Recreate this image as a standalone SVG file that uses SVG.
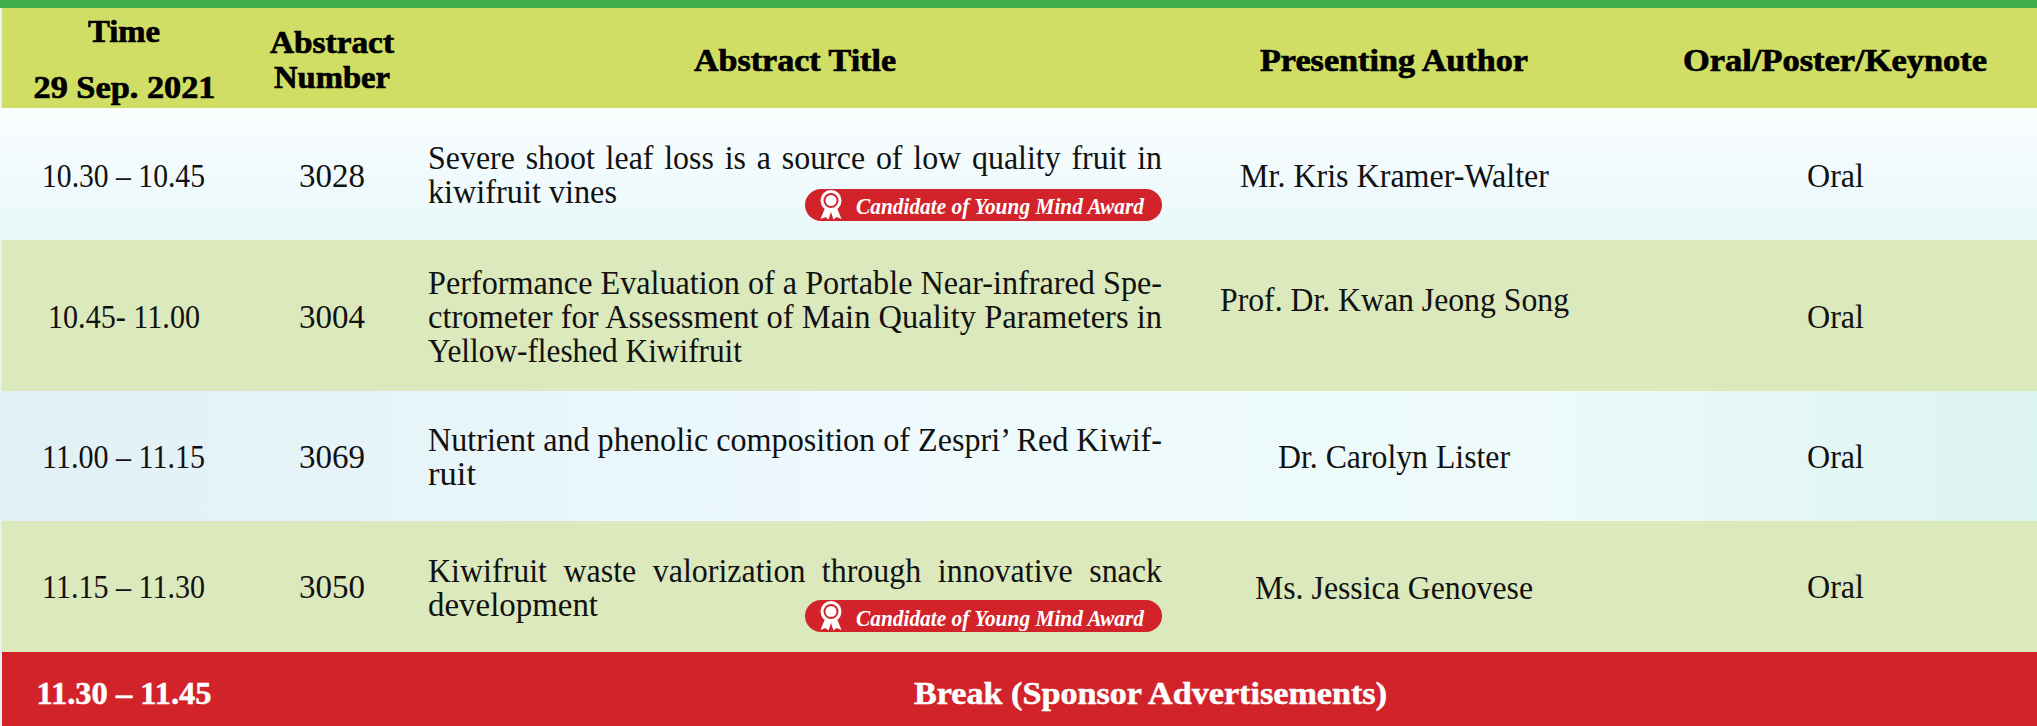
<svg xmlns="http://www.w3.org/2000/svg" width="2037" height="726" viewBox="0 0 2037 726">
<style>
text{font-family:"Liberation Serif","Times New Roman",serif;fill:#111}
.b{font-size:34px}
.h{font-size:32px;font-weight:700;fill:#000;stroke:#000;stroke-width:.7px}
.w{font-size:32px;font-weight:700;fill:#fff;stroke:#fff;stroke-width:.5px}
.a{font-size:23px;font-weight:700;font-style:italic;fill:#fff}
.g{fill:#dbe9bd}
.p{fill:#d2232b}
</style>
<defs>
<linearGradient id="r1" x1="0" y1="0" x2="0" y2="1"><stop offset="0" stop-color="#fafdfe"/><stop offset=".55" stop-color="#f0fafc"/><stop offset="1" stop-color="#e9f8fa"/></linearGradient>
<linearGradient id="r3" x1="0" y1="0" x2="1" y2="0"><stop offset="0" stop-color="#e1f0f5"/><stop offset=".45" stop-color="#eefafd"/><stop offset=".75" stop-color="#edfaf9"/><stop offset="1" stop-color="#dcf4f0"/></linearGradient>
<g id="badge">
<rect class="p" x="805" y="189" width="357" height="32" rx="16"/>
<path d="M825 208l-4.500 11 5-2 3 2.500 3-9zM837 208l4.500 11-5-2-3 2.500-3-9z" fill="#fff"/>
<circle cx="831" cy="200.500" r="10.500" fill="#fff"/>
<circle cx="831" cy="200.500" r="7.500" fill="#d2232b"/>
<circle cx="831" cy="200.500" r="5.500" fill="#fff"/>
</g>
</defs>
<rect width="2037" height="726" fill="#e4f2f2"/>
<g id="top-bar"><rect width="2037" height="8" fill="#40ae49"/></g>
<g id="header">
<rect x="2" y="8" width="2035" height="100" fill="#d1de65"/>
<text class="h" x="88" y="42" textLength="72" lengthAdjust="spacingAndGlyphs">Time</text>
<text class="h" x="33.500" y="97.500" textLength="182" lengthAdjust="spacingAndGlyphs">29 Sep. 2021</text>
<text class="h" x="270" y="52.500" textLength="124" lengthAdjust="spacingAndGlyphs">Abstract</text>
<text class="h" x="274" y="87.500" textLength="116" lengthAdjust="spacingAndGlyphs">Number</text>
<text class="h" x="694" y="71" textLength="202" lengthAdjust="spacingAndGlyphs">Abstract Title</text>
<text class="h" x="1260" y="71" textLength="268" lengthAdjust="spacingAndGlyphs">Presenting Author</text>
<text class="h" x="1683" y="71" textLength="304" lengthAdjust="spacingAndGlyphs">Oral/Poster/Keynote</text>
</g>
<g id="row-3028">
<rect x="0" y="108" width="2037" height="132" fill="url(#r1)"/>
<text class="b" x="42" y="187" textLength="163" lengthAdjust="spacingAndGlyphs">10.30 – 10.45</text>
<text class="b" x="299" y="187" textLength="66" lengthAdjust="spacingAndGlyphs">3028</text>
<text class="b" x="428" y="169" textLength="734" lengthAdjust="spacingAndGlyphs" word-spacing="3">Severe shoot leaf loss is a source of low quality fruit in</text>
<text class="b" x="428" y="203" textLength="189" lengthAdjust="spacingAndGlyphs">kiwifruit vines</text>
<use href="#badge"/>
<text class="a" x="856" y="213.500" textLength="288" lengthAdjust="spacingAndGlyphs">Candidate of Young Mind Award</text>
<text class="b" x="1240" y="187" textLength="309" lengthAdjust="spacingAndGlyphs">Mr. Kris Kramer-Walter</text>
<text class="b" x="1807" y="187" textLength="57" lengthAdjust="spacingAndGlyphs">Oral</text>
</g>
<g id="row-3004">
<rect class="g" x="2" y="240" width="2035" height="151"/>
<text class="b" x="48" y="328" textLength="152" lengthAdjust="spacingAndGlyphs">10.45- 11.00</text>
<text class="b" x="299" y="328" textLength="66" lengthAdjust="spacingAndGlyphs">3004</text>
<text class="b" x="428" y="294" textLength="734" lengthAdjust="spacingAndGlyphs">Performance Evaluation of a Portable Near-infrared Spe-</text>
<text class="b" x="428" y="328" textLength="734" lengthAdjust="spacingAndGlyphs">ctrometer for Assessment of Main Quality Parameters in</text>
<text class="b" x="428" y="362" textLength="314" lengthAdjust="spacingAndGlyphs">Yellow-fleshed Kiwifruit</text>
<text class="b" x="1220" y="311" textLength="349" lengthAdjust="spacingAndGlyphs">Prof. Dr. Kwan Jeong Song</text>
<text class="b" x="1807" y="328" textLength="57" lengthAdjust="spacingAndGlyphs">Oral</text>
</g>
<g id="row-3069">
<rect x="0" y="391" width="2037" height="130" fill="url(#r3)"/>
<text class="b" x="42" y="468" textLength="163" lengthAdjust="spacingAndGlyphs">11.00 – 11.15</text>
<text class="b" x="299" y="468" textLength="66" lengthAdjust="spacingAndGlyphs">3069</text>
<text class="b" x="428" y="451" textLength="734" lengthAdjust="spacingAndGlyphs">Nutrient and phenolic composition of Zespri’ Red Kiwif-</text>
<text class="b" x="428" y="485" textLength="48" lengthAdjust="spacingAndGlyphs">ruit</text>
<text class="b" x="1278" y="468" textLength="232" lengthAdjust="spacingAndGlyphs">Dr. Carolyn Lister</text>
<text class="b" x="1807" y="468" textLength="57" lengthAdjust="spacingAndGlyphs">Oral</text>
</g>
<g id="row-3050">
<rect class="g" x="2" y="521" width="2035" height="131"/>
<text class="b" x="42" y="598" textLength="163" lengthAdjust="spacingAndGlyphs">11.15 – 11.30</text>
<text class="b" x="299" y="598" textLength="66" lengthAdjust="spacingAndGlyphs">3050</text>
<text class="b" x="428" y="582" textLength="734" lengthAdjust="spacingAndGlyphs" word-spacing="9">Kiwifruit waste valorization through innovative snack</text>
<text class="b" x="428" y="616" textLength="170" lengthAdjust="spacingAndGlyphs">development</text>
<use href="#badge" y="411"/>
<text class="a" x="856" y="625.500" textLength="288" lengthAdjust="spacingAndGlyphs">Candidate of Young Mind Award</text>
<text class="b" x="1255" y="599" textLength="278" lengthAdjust="spacingAndGlyphs">Ms. Jessica Genovese</text>
<text class="b" x="1807" y="598" textLength="57" lengthAdjust="spacingAndGlyphs">Oral</text>
</g>
<g id="row-break">
<rect class="p" x="2" y="652" width="2035" height="74"/>
<text class="w" x="36.500" y="703.500" textLength="175" lengthAdjust="spacingAndGlyphs">11.30 – 11.45</text>
<text class="w" x="914" y="703.500" textLength="473" lengthAdjust="spacingAndGlyphs">Break (Sponsor Advertisements)</text>
</g>
</svg>
